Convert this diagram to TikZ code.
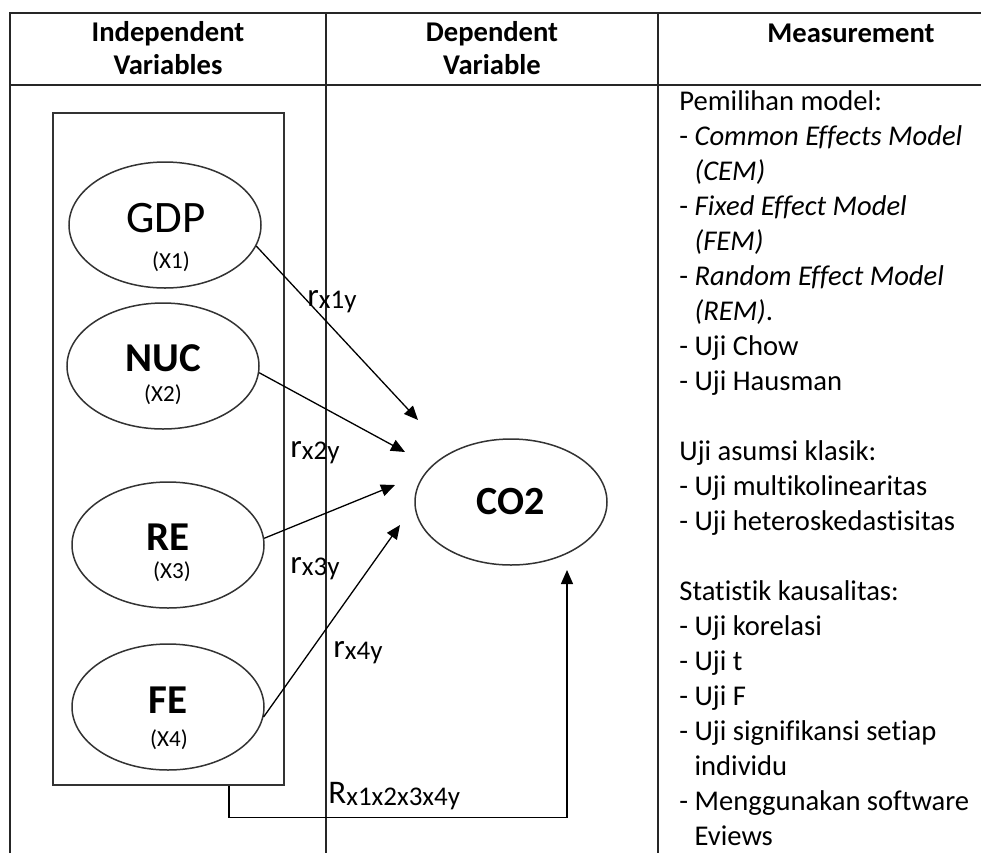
\documentclass[tikz,border=0pt]{standalone}
\usepackage{fontspec}
\setmainfont{Carlito}[Ligatures={NoCommon}]
\usetikzlibrary{arrows.meta,positioning,shapes.geometric,calc}
\newcommand{\varnamefont}{\fontsize{20.5}{24}\selectfont}
\newcommand{\varsubfont}{\fontsize{11.5}{14}\selectfont}
\newcommand{\corr}[2]{{\fontsize{16.5}{18}\selectfont #1}{\fontsize{13.5}{15}\selectfont\raisebox{-1pt}{#2}}}
\tikzset{
  gridline/.style={line width=1pt, black!85},
  varell/.style={draw, ellipse, line width=0.75pt, draw=black!80,
    minimum width=96pt, minimum height=63pt, inner sep=0pt},
  vartxt/.style={inner sep=0pt},
  hdr/.style={font=\fontsize{14.3}{16.5}\selectfont\bfseries, align=center, inner sep=0pt},
  coefflbl/.style={anchor=base west, inner sep=0pt},
  arrw/.style={-{Triangle[length=7pt,width=6pt]}, line width=0.65pt},
}

\begin{document}
\begin{tikzpicture}[x=0.5pt,y=-0.5pt]
  \useasboundingbox (0,0) rectangle (981,853);

  % Table frame
  \draw[gridline] (10,853) -- (10,13) -- (981,13);
  \draw[gridline] (10,85) -- (981,85);
  \draw[gridline] (326,13) -- (326,853);
  \draw[gridline] (658,13) -- (658,853);

  % Headers
  \node[hdr] (hind) at (168,48) {Independent\\Variables};
  \node[hdr] (hdep) at (492,48) {Dependent\\Variable};
  \node[hdr, anchor=base] (hmeas) at (851,42) {Measurement};

  % Independent variables
  \node[draw, line width=0.8pt, draw=black!80, minimum width=115.5pt,
        minimum height=336pt, inner sep=0pt] (ivbox) at (168.5,449) {};

  \node[varell] (gdp) at (165,225) {};
  \node[vartxt, font=\fontsize{22.5}{26}\selectfont] (gdpname) at (166,218) {GDP};
  \node[vartxt, font=\varsubfont] (gdpsub) at (171,262) {(X1)};

  \node[varell] (nuc) at (163,366) {};
  \node[vartxt, font=\varnamefont\bfseries] (nucname) at (163,358) {NUC};
  \node[vartxt, font=\varsubfont] (nucsub) at (163,395) {(X2)};

  \node[varell] (re) at (168,545) {};
  \node[vartxt, font=\varnamefont\bfseries] (rename) at (168,537) {RE};
  \node[vartxt, font=\varsubfont] (resub) at (172,572) {(X3)};

  \node[varell] (fe) at (168,707) {};
  \node[vartxt, font=\varnamefont\bfseries] (fename) at (168,700) {FE};
  \node[vartxt, font=\varsubfont] (fesub) at (169,740) {(X4)};

  % Dependent variable
  \node[varell, font=\fontsize{20}{24}\selectfont\bfseries] (co2) at (511,502) {CO2};

  % Arrow ends
  \coordinate (tip1) at (418,420);
  \coordinate (tip2) at (405,452);
  \coordinate (tip3) at (395,485);
  \coordinate (tip4) at (400,525);
  \coordinate (tipall) at (567,570);

  % Arrows
  \draw[arrw] (gdp.-13) -- (tip1);
  \draw[arrw] (nuc.-4) -- (tip2);
  \draw[arrw] (re.4) -- (tip3);
  \draw[arrw] (fe.-6) -- (tip4);
  \draw[arrw] ([xshift=30.25pt]ivbox.south) -- ++(0,32) -| (tipall);

  % Coefficients
  \node[coefflbl] (rx1) at (307,306) {\corr{r}{x1y}};
  \node[coefflbl] (rx2) at (290,457) {\corr{r}{x2y}};
  \node[coefflbl] (rx3) at (290,573) {\corr{r}{x3y}};
  \node[coefflbl] (rx4) at (333,657) {\corr{r}{x4y}};
  \node[coefflbl] (rall) at (328,803) {\corr{R}{x1x2x3x4y}};

  % Measurement
  \node[anchor=north west, align=left, inner sep=0pt,
        font=\fontsize{14.3}{17.5}\selectfont] (meas) at (679,90)
    {Pemilihan model:\\
     - \textit{Common Effects Model}\\
     \hphantom{- }\textit{(CEM)}\\
     - \textit{Fixed Effect Model}\\
     \hphantom{- }\textit{(FEM)}\\
     - \textit{Random Effect Model}\\
     \hphantom{- }\textit{(REM)}.\\
     - Uji Chow\\
     - Uji Hausman\\
     ~\\
     Uji asumsi klasik:\\
     - Uji multikolinearitas\\
     - Uji heteroskedastisitas\\
     ~\\
     Statistik kausalitas:\\
     - Uji korelasi\\
     - Uji t\\
     - Uji F\\
     - Uji signifikansi setiap\\
     \hphantom{- }individu\\
     - Menggunakan software\\
     \hphantom{- }Eviews};
\end{tikzpicture}
\end{document}
